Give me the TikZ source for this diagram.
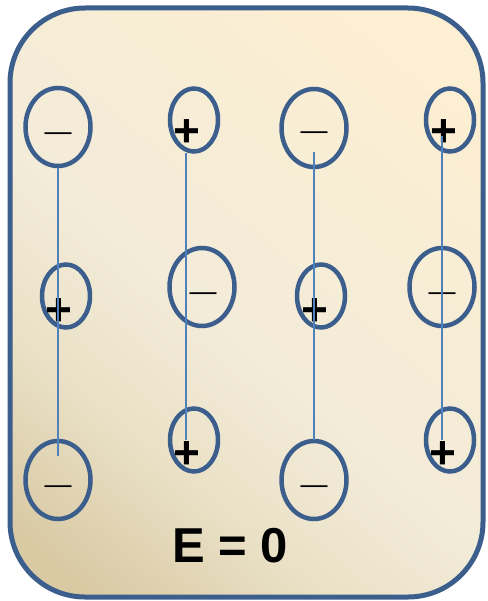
\documentclass[tikz,border=0pt]{standalone}
\usepackage{fontspec}
\setmainfont{Liberation Sans}
\usetikzlibrary{shapes.geometric}
\definecolor{frameblue}{HTML}{3B5E8C}
\definecolor{linkblue}{HTML}{4F81BD}
\definecolor{creamtop}{HTML}{FDEFD2}
\definecolor{creamhigh}{HTML}{F8EDD5}
\definecolor{creammid}{HTML}{F3ECD9}
\definecolor{creamlow}{HTML}{EAE1C7}
\definecolor{creambot}{HTML}{D9CAA4}
\pgfdeclareverticalshading{bgshade}{100bp}{color(0bp)=(creambot); color(20bp)=(creambot); color(34bp)=(creamlow); color(47bp)=(creammid); color(64bp)=(creamhigh); color(80bp)=(creamtop); color(100bp)=(creamtop)}
\tikzset{
  bigring/.style={ellipse, draw=frameblue, line width=4.5bp, minimum width=65bp, minimum height=78bp, inner sep=0pt},
  smallring/.style={ellipse, draw=frameblue, line width=4.5bp, minimum width=48bp, minimum height=63bp, inner sep=0pt},
  minussign/.style={anchor=base, inner sep=0pt, font=\fontsize{27bp}{27bp}\selectfont},
  plussign/.style={anchor=base, inner sep=0pt, font=\fontsize{46bp}{46bp}\selectfont\bfseries},
  dipole/.style={draw=linkblue, line width=2.4bp}
}
\begin{document}
\begin{tikzpicture}[x=1bp,y=-1bp]
\useasboundingbox (0,0) rectangle (488,601);
% frame
\shade[shading=bgshade, shading angle=-40, rounded corners=75bp]
  (10,8) rectangle (483,597);
\draw[frameblue, line width=5bp, rounded corners=75bp] (10,8) rectangle (483,597);
% column 1
\node[bigring] (a1) at (58,127) {};
\node[smallring] (b1) at (66,296) {};
\node[bigring] (c1) at (58,480) {};
% column 2
\node[smallring] (a2) at (194,120) {};
\node[bigring] (b2) at (202,287) {};
\node[smallring] (c2) at (194,440) {};
% column 3
\node[bigring] (a3) at (314,128) {};
\node[smallring] (b3) at (321,296) {};
\node[bigring] (c3) at (314,480) {};
% column 4
\node[smallring] (a4) at (450,120) {};
\node[bigring] (b4) at (442,287) {};
\node[smallring] (c4) at (450,440) {};
% signs
\node[minussign] (sa1) at (58,140.5) {—};
\node[plussign] (sb1) at (59,325) {+};
\node[minussign] (sc1) at (58,493.5) {—};
\node[plussign] (sa2) at (187,147) {+};
\node[minussign] (sb2) at (203,300.5) {—};
\node[plussign] (sc2) at (187,468) {+};
\node[minussign] (sa3) at (314,139.5) {—};
\node[plussign] (sb3) at (315,325) {+};
\node[minussign] (sc3) at (314,493.5) {—};
\node[plussign] (sa4) at (444,147) {+};
\node[minussign] (sb4) at (442,300.5) {—};
\node[plussign] (sc4) at (443,468) {+};
% dipole line ends
\coordinate (e1) at (58,456);
\coordinate (s2) at (186,153);
\coordinate (e2) at (186,440);
\coordinate (s3) at (314,152);
\coordinate (e3) at (314,440);
\coordinate (s4) at (442,136);
\coordinate (e4) at (442,440);
\draw[dipole] (a1.south) -- (e1);
\draw[dipole] (s2) -- (e2);
\draw[dipole] (s3) -- (e3);
\draw[dipole] (s4) -- (e4);
% label
\node[anchor=base, inner sep=0pt, font=\fontsize{49bp}{49bp}\selectfont\bfseries] (lbl) at (230,562) {E = 0};
\end{tikzpicture}
\end{document}
